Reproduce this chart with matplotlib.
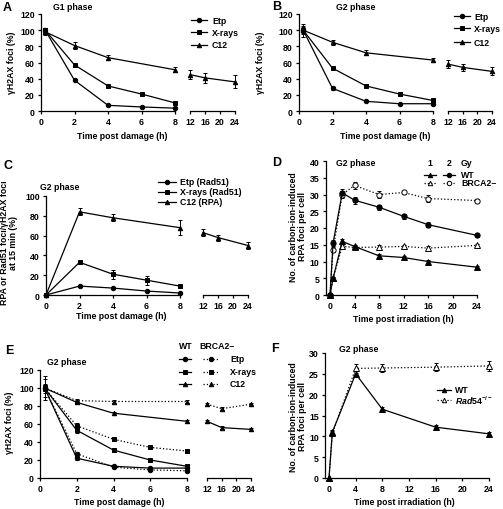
import numpy as np
import matplotlib
matplotlib.use('Agg')
import matplotlib.pyplot as plt

plt.rcParams['font.family'] = ['Liberation Sans', 'DejaVu Sans']
plt.rcParams['font.weight'] = 'bold'
plt.rcParams['font.size'] = 6.3
plt.rcParams['mathtext.fontset'] = 'custom'
plt.rcParams['mathtext.rm'] = 'Liberation Sans:bold'
plt.rcParams['mathtext.it'] = 'Liberation Sans:italic:bold'

# ---- data ----
# A: G1 phase, gamma-H2AX foci (%)
a_x = [0.25, 2, 4, 6, 8]
a_etp = [100, 38, 7, 5, 3.5]
a_etp_err = [3, 1.5, 1, 1, 1]
a_xray = [100, 57, 31, 21, 10]
a_xray_err = [3, 1.5, 1.5, 1.5, 1.5]
a_c12_x = [0.25, 2, 4, 8]
a_c12 = [98, 81, 66, 51]
a_c12_err = [4, 4, 3, 3]
a_late_x = [12, 16, 24]
a_c12_late = [45, 41, 36]
a_c12_late_err = [6, 6, 8]

# B: G2 phase
b_x = [0.25, 2, 4, 6, 8]
b_etp = [100, 28, 12, 9, 9]
b_etp_err = [8, 2, 1, 1, 1.5]
b_xray = [100, 53, 31, 21, 13]
b_xray_err = [5, 2, 1.5, 1.5, 2]
b_c12_x = [0.25, 2, 4, 8]
b_c12 = [100, 85, 72, 63]
b_c12_err = [4, 3, 3, 2]
b_late_x = [12, 16, 24]
b_c12_late = [58, 54, 49]
b_c12_late_err = [5, 4, 5]

# C: RPA / Rad51 foci relative to gH2AX at 15 min
c_x = [0, 2, 4, 6, 8]
c_etp = [0, 9, 7, 4, 2]
c_etp_err = [0.5, 1, 1, 1, 1]
c_xray = [0, 33, 21, 15, 9]
c_xray_err = [0.5, 1.5, 4.5, 4.5, 1.5]
c_c12_x = [0, 2, 4, 8]
c_c12 = [0, 84, 78, 68]
c_c12_err = [0.5, 3.5, 3.5, 7.5]
c_late_x = [12, 16, 24]
c_c12_late = [63, 58, 50]
c_c12_late_err = [3.5, 3, 3.5]

# D: RPA foci per cell, WT vs BRCA2-, 1 and 2 Gy
d_x = [0, 0.5, 2, 4, 8, 12, 16, 24]
d_wt1 = [0, 5, 16, 14.5, 11.7, 11.2, 10, 8.3]
d_wt1_err = [0, 0.5, 0.7, 0.5, 0.5, 0.5, 0.5, 0.5]
d_wt2 = [0, 15.5, 30.5, 28.3, 26.2, 23.5, 21, 17.8]
d_wt2_err = [0, 1, 1.2, 1, 0.7, 0.8, 0.8, 0.5]
d_br1 = [0, 5, 14.5, 14.2, 14.3, 14.5, 14, 14.8]
d_br1_err = [0, 0.5, 0.5, 0.5, 0.5, 0.5, 0.5, 0.5]
d_br2 = [0, 13.5, 30, 32.7, 30, 30.6, 28.8, 28.2]
d_br2_err = [0, 0.7, 1, 1, 1, 0.5, 1, 0.5]

# E: G2 phase, WT vs BRCA2-
e_x = [0.25, 2, 4, 6, 8]
e_wt_etp = [100, 22, 13, 11, 11]
e_wt_etp_err = [10, 2, 1, 1, 1]
e_br_etp = [100, 27, 12, 9, 8]
e_br_etp_err = [13, 2, 1, 1, 1]
e_wt_xray = [100, 53, 31, 20, 13]
e_wt_xray_err = [5, 3, 2.5, 1.5, 1.5]
e_br_xray = [100, 58, 43, 34, 30]
e_br_xray_err = [3, 3, 1.5, 1.5, 2]
e_c12_x = [0.25, 2, 4, 8]
e_wt_c12 = [100, 84, 72, 63]
e_wt_c12_err = [3, 2, 1.5, 1.5]
e_br_c12 = [100, 86, 85, 85]
e_br_c12_err = [3, 1.5, 1.5, 1.5]
e_late_x = [12, 16, 24]
e_wt_c12_late = [63, 56, 54]
e_wt_c12_late_err = [1.5, 1.5, 1.5]
e_br_c12_late = [82, 77, 82]
e_br_c12_late_err = [1.5, 1.5, 1.5]

# F: RPA foci per cell, WT vs Rad54-/-
f_x = [0, 0.5, 4, 8, 16, 24]
f_wt = [0, 11, 25, 16.5, 12.2, 10.6]
f_wt_err = [0, 0.5, 0.7, 0.5, 0.5, 0.5]
f_rad54 = [0, 10.7, 26.3, 26.4, 26.6, 26.9]
f_rad54_err = [0, 0.5, 1, 1, 1, 1.2]

W, H = 503, 510
fig = plt.figure(figsize=(W / 100, H / 100), dpi=100)

# pixel overlay for text and legends
lay = fig.add_axes([0, 0, 1, 1])
lay.set_xlim(0, W)
lay.set_ylim(H, 0)
lay.axis('off')


def make_ax(xpx, xval, xlim, ypx, yval, ylim, late=False):
    sx = (xpx[1] - xpx[0]) / (xval[1] - xval[0])
    left = xpx[0] + (xlim[0] - xval[0]) * sx
    right = xpx[0] + (xlim[1] - xval[0]) * sx
    sy = (ypx[1] - ypx[0]) / (yval[1] - yval[0])
    bottom = ypx[0] + (ylim[0] - yval[0]) * sy
    top = ypx[0] + (ylim[1] - yval[0]) * sy
    ax = fig.add_axes([left / W, 1 - bottom / H, (right - left) / W, (bottom - top) / H])
    ax.set_xlim(*xlim)
    ax.set_ylim(*ylim)
    ax.patch.set_visible(False)
    for s in ['top', 'right']:
        ax.spines[s].set_visible(False)
    for s in ax.spines.values():
        s.set_linewidth(0.9)
    ax.tick_params(direction='out', length=2.5, width=0.9, pad=2, labelsize=6.3)
    if late:
        ax.spines['left'].set_visible(False)
        ax.set_yticks([])
    return ax


def eb(ax, x, y, e, marker, ls='-', mfc='k', ms=3.2):
    art = ax.errorbar(x, y, yerr=e, color='k', ls=ls, lw=0.9, marker=marker,
                      ms=ms, mfc=mfc, mec='k', mew=0.7, capsize=1.5,
                      elinewidth=0.7, capthick=0.7, zorder=3)
    for a in art.lines[0:1] + tuple(art.lines[1]) + tuple(art.lines[2]):
        a.set_clip_on(False)


def leg_sample(x0, x1, y, marker, ls='-', mfc='k'):
    lay.plot([x0, x1], [y, y], ls=ls, color='k', lw=0.9)
    lay.plot([(x0 + x1) / 2], [y], marker=marker, ms=3.2, mfc=mfc, mec='k', mew=0.7, color='k')


def label(x, y, s, **kw):
    lay.text(x, y, s, ha=kw.pop('ha', 'center'), va=kw.pop('va', 'center'), **kw)


main_ticks = [0, 2, 4, 6, 8]
late_ticks = [12, 16, 20, 24]

# ---------- A ----------
ax = make_ax((41, 175), (0, 8), (0, 8), (112, 15), (0, 120), (0, 120))
eb(ax, a_x, a_etp, a_etp_err, 'o')
eb(ax, a_x, a_xray, a_xray_err, 's')
eb(ax, a_c12_x, a_c12, a_c12_err, '^')
ax.set_xticks(main_ticks)
ax.set_yticks(range(0, 121, 20))
ax2 = make_ax((190, 235), (12, 24), (12, 24), (112, 15), (0, 120), (0, 120), late=True)
eb(ax2, a_late_x, a_c12_late, a_c12_late_err, '^')
ax2.set_xticks(late_ticks)
label(3, 8, 'A', fontsize=9, ha='left')
label(53, 7, 'G1 phase', ha='left')
label(12, 63, 'γH2AX foci (%)', rotation=90)
label(122, 137, 'Time post damage (h)')
for yy, mk, name in [(21, 'o', 'Etp'), (33, 's', 'X-rays'), (46, '^', 'C12')]:
    leg_sample(191, 207, yy, mk)
    label(212, yy, name, ha='left')

# ---------- B ----------
ax = make_ax((299, 433), (0, 8), (0, 8), (112, 15), (0, 120), (0, 120))
eb(ax, b_x, b_etp, b_etp_err, 'o')
eb(ax, b_x, b_xray, b_xray_err, 's')
eb(ax, b_c12_x, b_c12, b_c12_err, '^')
ax.set_xticks(main_ticks)
ax.set_yticks(range(0, 121, 20))
ax2 = make_ax((448, 492), (12, 24), (12, 24), (112, 15), (0, 120), (0, 120), late=True)
eb(ax2, b_late_x, b_c12_late, b_c12_late_err, '^')
ax2.set_xticks(late_ticks)
label(272, 7, 'B', fontsize=9, ha='left')
label(336, 7, 'G2 phase', ha='left')
label(261, 63, 'γH2AX foci (%)', rotation=90)
label(385, 137, 'Time post damage (h)')
for yy, mk, name in [(17, 'o', 'Etp'), (29, 's', 'X-rays'), (43, '^', 'C12')]:
    leg_sample(454, 470, yy, mk)
    label(474, yy, name, ha='left')

# ---------- C ----------
ax = make_ax((46, 180), (0, 8), (0, 8), (296, 197), (0, 100), (0, 100))
eb(ax, c_x, c_etp, c_etp_err, 'o')
eb(ax, c_x, c_xray, c_xray_err, 's')
eb(ax, c_c12_x, c_c12, c_c12_err, '^')
ax.set_xticks(main_ticks)
ax.set_yticks(range(0, 101, 20))
ax2 = make_ax((203, 248), (12, 24), (12, 24), (296, 197), (0, 100), (0, 100), late=True)
eb(ax2, c_late_x, c_c12_late, c_c12_late_err, '^')
ax2.set_xticks(late_ticks)
label(4, 166, 'C', fontsize=9, ha='left')
label(40, 188, 'G2 phase', ha='left')
label(9, 243, 'RPA or Rad51 foci/γH2AX foci\nat 15 min (%)', rotation=90, linespacing=1.1)
label(121, 317, 'Time post damage (h)')
for yy, mk, name in [(183, 'o', 'Etp (Rad51)'), (193, 's', 'X-rays (Rad51)'), (203, '^', 'C12 (RPA)')]:
    leg_sample(158, 176, yy, mk)
    label(180, yy, name, ha='left')

# ---------- D ----------
ax = make_ax((330, 477), (0, 24), (-0.7, 24), (296, 162), (0, 40), (0, 40))
eb(ax, d_x, d_br2, d_br2_err, 'o', ls=':', mfc='white', ms=3.8)
eb(ax, d_x, d_br1, d_br1_err, '^', ls=':', mfc='white', ms=3.8)
eb(ax, d_x, d_wt2, d_wt2_err, 'o', ms=3.8)
eb(ax, d_x, d_wt1, d_wt1_err, '^', ms=3.8)
ax.set_xticks(range(0, 25, 4))
ax.set_yticks(range(0, 41, 5))
label(272, 163, 'D', fontsize=9, ha='left')
label(336, 164, 'G2 phase', ha='left')
label(298, 227, 'No. of carbon-ion-induced\nRPA foci per cell', rotation=90, linespacing=1.1)
label(403, 320, 'Time post irradiation (h)')
label(430, 164, '1')
label(449, 164, '2')
label(461, 164, 'Gy', ha='left')
leg_sample(424, 436, 176, '^')
leg_sample(443, 455, 176, 'o')
label(461, 176, 'WT', ha='left')
leg_sample(424, 436, 184, '^', ls=':', mfc='white')
leg_sample(443, 455, 184, 'o', ls=':', mfc='white')
label(461, 184, 'BRCA2–', ha='left')

# ---------- E ----------
ax = make_ax((40, 187), (0, 8), (0, 8), (479, 371), (0, 120), (0, 120))
eb(ax, e_x, e_br_etp, e_br_etp_err, 'o', ls=':')
eb(ax, e_x, e_br_xray, e_br_xray_err, 's', ls=':')
eb(ax, e_c12_x, e_br_c12, e_br_c12_err, '^', ls=':')
eb(ax, e_x, e_wt_etp, e_wt_etp_err, 'o')
eb(ax, e_x, e_wt_xray, e_wt_xray_err, 's')
eb(ax, e_c12_x, e_wt_c12, e_wt_c12_err, '^')
ax.set_xticks(main_ticks)
ax.set_yticks(range(0, 121, 20))
ax2 = make_ax((207, 251), (12, 24), (12, 24), (479, 371), (0, 120), (0, 120), late=True)
eb(ax2, e_late_x, e_br_c12_late, e_br_c12_late_err, '^', ls=':')
eb(ax2, e_late_x, e_wt_c12_late, e_wt_c12_late_err, '^')
ax2.set_xticks(late_ticks)
label(5, 351, 'E', fontsize=9, ha='left')
label(47, 363, 'G2 phase', ha='left')
label(10, 423, 'γH2AX foci (%)', rotation=90)
label(119, 503, 'Time post damage (h)')
label(179, 347, 'WT', ha='left')
label(199, 347, 'BRCA2–', ha='left')
for yy, mk, name in [(360, 'o', 'Etp'), (373, 's', 'X-rays'), (385, '^', 'C12')]:
    leg_sample(179, 191, yy, mk)
    leg_sample(203, 219, yy, mk, ls=':')
    label(230, yy, name, ha='left')

# ---------- F ----------
ax = make_ax((329, 489), (0, 24), (-0.6, 24), (479, 354), (0, 30), (0, 30))
eb(ax, f_x, f_rad54, f_rad54_err, '^', ls=':', mfc='white', ms=3.8)
eb(ax, f_x, f_wt, f_wt_err, '^', ms=3.8)
ax.set_xticks(range(0, 25, 4))
ax.set_yticks(range(0, 31, 5))
label(271, 349, 'F', fontsize=9, ha='left')
label(339, 350, 'G2 phase', ha='left')
label(298, 417, 'No. of carbon-ion-induced\nRPA foci per cell', rotation=90, linespacing=1.1)
label(404, 503, 'Time post irradiation (h)')
leg_sample(437, 451, 391, '^')
label(455, 391, 'WT', ha='left')
leg_sample(437, 451, 401, '^', ls=':', mfc='white')
label(455, 401, r'$\it{Rad54}^{-/-}$', ha='left')

fig.savefig('out.png', dpi=100)
